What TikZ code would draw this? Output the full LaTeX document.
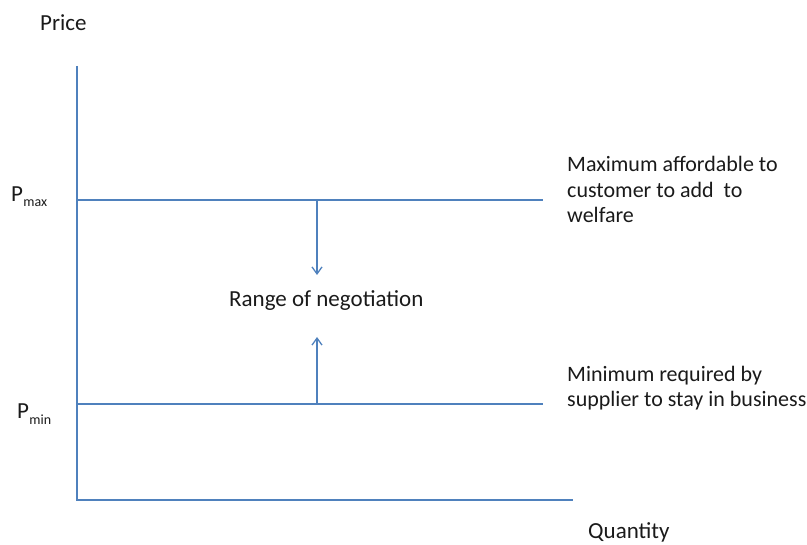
\documentclass[tikz,border=0pt]{standalone}
\usepackage{fontspec}
\setmainfont{Carlito}
\usetikzlibrary{arrows.meta}
\definecolor{axisblue}{HTML}{4F81BD}
\definecolor{txt}{HTML}{1A1A1A}
\begin{document}
\begin{tikzpicture}[x=1pt,y=-1pt,
  ln/.style={draw=axisblue,line width=1.3pt},
  arr/.style={ln,-{Straight Barb[length=7pt,width=10pt]}},
  lbl/.style={font=\fontsize{23}{26}\selectfont,inner sep=0pt,text=txt,anchor=base west},
  side/.style={font=\fontsize{22}{25.5}\selectfont,inner sep=0pt,text=txt,anchor=base west,align=left},
  subs/.style={font=\fontsize{14}{14}\selectfont,inner sep=0pt,text=txt,anchor=base west}]
\useasboundingbox (0,0) rectangle (807,545);
\coordinate (o) at (77,500);
\coordinate (ytop) at (77,66);
\coordinate (xend) at (573,500);
\coordinate (maxl) at (77,200);
\coordinate (maxr) at (543,200);
\coordinate (minl) at (77,404);
\coordinate (minr) at (543,404);
\coordinate (amax) at (317,200);
\coordinate (amin) at (317,404);
\coordinate (amaxend) at (317,275);
\coordinate (aminend) at (317,337);
\draw[ln] (ytop) -- (o) -- (xend);
\draw[ln] (maxl) -- (maxr);
\draw[ln] (minl) -- (minr);
\node[lbl] (price) at (40,31) {Price};
\node[lbl] (qty) at (588,539) {Quantity};
\node[lbl] (pmax) at (11,202) {P};
\node[subs] (pmaxs) at (pmax.base east) [yshift=-5pt] {max};
\node[lbl] (pmin) at (17,419) {P};
\node[subs] (pmins) at (pmin.base east) [yshift=-6pt] {min};
\node[lbl] (range) at (229,307) {Range of negotiation};
\node[side] (maxtxt) at (567,223) {Maximum affordable to\\customer to add\ \ to\\welfare};
\node[side] (mintxt) at (567,407) {Minimum required by\\supplier to stay in business};
\draw[arr] (amax) -- (amaxend);
\draw[arr] (amin) -- (aminend);
\end{tikzpicture}
\end{document}
